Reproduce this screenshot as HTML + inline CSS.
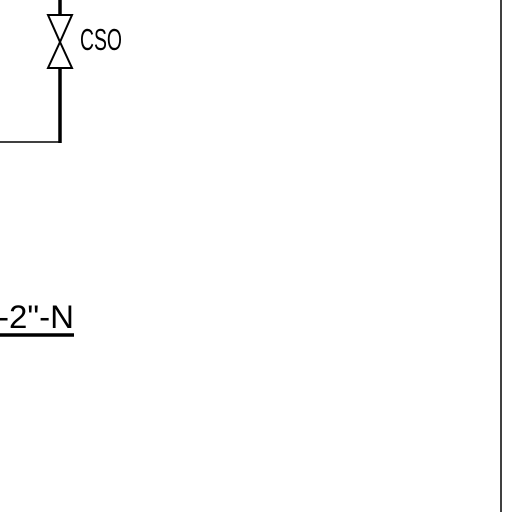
<!DOCTYPE html>
<html><head><meta charset="utf-8">
<style>
html,body{margin:0;padding:0;background:#fff;width:512px;height:512px;overflow:hidden}
svg{display:block}
text{font-family:"Liberation Sans",sans-serif}
</style></head>
<body>
<svg width="512" height="512" viewBox="0 0 512 512">
  <rect x="0" y="0" width="512" height="512" fill="#fff"/>
  <line x1="60" y1="0" x2="60" y2="15" stroke="#000" stroke-width="3.5"/>
  <g fill="#fff" stroke="#000" stroke-width="2">
    <polygon points="48,15 72,15 60,42"/>
    <polygon points="60,42 48,68 72,68"/>
  </g>
  <line x1="60" y1="68" x2="60" y2="143" stroke="#000" stroke-width="3.5"/>
  <line x1="0" y1="142" x2="61" y2="142" stroke="#000" stroke-width="1.5"/>
  <text x="80" y="50" font-size="31" textLength="42" lengthAdjust="spacingAndGlyphs" fill="#000">CSO</text>
  <text x="-2" y="328" font-size="32" textLength="76" lengthAdjust="spacingAndGlyphs" fill="#000">-2"-N</text>
  <line x1="0" y1="335" x2="74" y2="335" stroke="#000" stroke-width="3.5"/>
  <line x1="501" y1="0" x2="501" y2="512" stroke="#000" stroke-width="1.5"/>
</svg>
</body></html>
